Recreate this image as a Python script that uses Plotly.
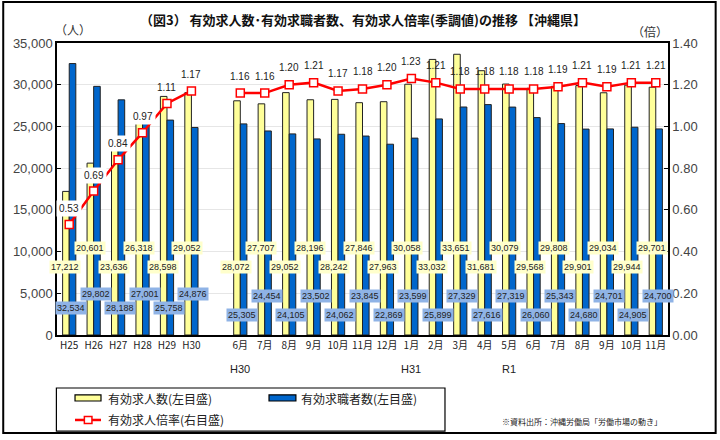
import plotly.graph_objects as go

# slots on the x axis: yearly, one empty slot, then monthly
year_keys = ["H25", "H26", "H27", "H28", "H29", "H30"]
month_keys = ["H30-06", "H30-07", "H30-08", "H30-09", "H30-10", "H30-11", "H30-12",
              "H31-01", "H31-02", "H31-03", "H31-04",
              "R1-05", "R1-06", "R1-07", "R1-08", "R1-09", "R1-10", "R1-11"]
month_labels = ["6月", "7月", "8月", "9月", "10月", "11月", "12月",
                "1月", "2月", "3月", "4月",
                "5月", "6月", "7月", "8月", "9月", "10月", "11月"]
era_marks = {"H30-06": "H30", "H31-01": "H31", "R1-05": "R1"}

year_offers = [17212, 20601, 23636, 26318, 28598, 29052]
year_seekers = [32534, 29802, 28188, 27001, 25758, 24876]
year_ratio = [0.53, 0.69, 0.84, 0.97, 1.11, 1.17]

month_offers = [28072, 27707, 29052, 28196, 28242, 27846, 27963,
                30058, 33032, 33651, 31681,
                30079, 29568, 29808, 29901, 29034, 29944, 29701]
month_seekers = [25305, 24454, 24105, 23502, 24062, 23845, 22869,
                 23599, 25899, 27329, 27616,
                 27319, 26060, 25343, 24680, 24701, 24905, 24700]
month_ratio = [1.16, 1.16, 1.20, 1.21, 1.17, 1.18, 1.20,
               1.23, 1.21, 1.18, 1.18,
               1.18, 1.18, 1.19, 1.21, 1.19, 1.21, 1.21]

names = ["有効求人数(左目盛)", "有効求職者数(左目盛)", "有効求人倍率(右目盛)"]

GAP = "gap"
cats = year_keys + [GAP] + month_keys
ticktext = year_keys + [""] + month_labels
offers = year_offers + [None] + month_offers
seekers = year_seekers + [None] + month_seekers
ratio = year_ratio + [None] + month_ratio

YELLOW = "#FFFF99"
BLUE = "#0066CC"
RED = "#FF0000"
JP = "Noto Sans CJK JP"
NUM = "Liberation Sans"

fig = go.Figure()
fig.add_trace(go.Bar(x=cats, y=offers, name=names[0],
                     marker=dict(color=YELLOW, line=dict(color="#222222", width=1))))
fig.add_trace(go.Bar(x=cats, y=seekers, name=names[1],
                     marker=dict(color=BLUE, line=dict(color="#222222", width=1))))
fig.add_trace(go.Scatter(x=cats, y=ratio, name=names[2], yaxis="y2",
                         mode="lines+markers", connectgaps=False,
                         line=dict(color=RED, width=2.5),
                         marker=dict(symbol="square", size=8, color="white",
                                     line=dict(color=RED, width=1.5))))

ann = []
# value boxes on the bars (staggered heights like the original)
def bar_labels(keys, offs, seeks, blue_lo, blue_hi):
    for j, k in enumerate(keys):
        lo = j % 2 == 0
        ann.append(dict(x=k, y=8150 if lo else 10400, xref="x", yref="y",
                        text=f"{offs[j]:,}", showarrow=False, xshift=-4,
                        bgcolor="#FFFFCC", borderpad=1,
                        font=dict(family=NUM, size=9, color="#222222")))
        ann.append(dict(x=k, y=blue_lo if lo else blue_hi, xref="x", yref="y",
                        text=f"{seeks[j]:,}", showarrow=False, xshift=2,
                        bgcolor="#8FB3E6", borderpad=1,
                        font=dict(family=NUM, size=9, color="#222222")))

bar_labels(year_keys, year_offers, year_seekers, 3240, 4900)
bar_labels(month_keys, month_offers, month_seekers, 2400, 4670)

# ratio labels
for j, k in enumerate(year_keys):
    ann.append(dict(x=k, y=year_ratio[j], xref="x", yref="y2", yshift=16,
                    text=f"{year_ratio[j]:.2f}", showarrow=False,
                    bgcolor="white" if j < 4 else "rgba(0,0,0,0)", borderpad=2,
                    font=dict(family=NUM, size=10, color="#222222")))
for j, k in enumerate(month_keys):
    ann.append(dict(x=k, y=month_ratio[j], xref="x", yref="y2", yshift=17,
                    text=f"{month_ratio[j]:.2f}", showarrow=False,
                    font=dict(family=NUM, size=10, color="#222222")))

# second row of x labels (era)
for k, t in era_marks.items():
    ann.append(dict(x=k, y=-0.116, xref="x", yref="paper", text=t, showarrow=False,
                    xanchor="center", yanchor="middle",
                    font=dict(family=NUM, size=11, color="#222222")))

def paper_text(x, y, text, size, color="#222222", family=JP, xanchor="center"):
    ann.append(dict(x=x, y=y, xref="paper", yref="paper", text=text, showarrow=False,
                    xanchor=xanchor, yanchor="middle",
                    font=dict(family=family, size=size, color=color)))

paper_text(0.5, 1.079, "<b>（図3） 有効求人数･有効求職者数、有効求人倍率(季調値)の推移 【沖縄県】</b>",
           13, "#111111")
paper_text(0.026, 1.045, "（人）", 12, "#333333")
paper_text(0.970, 1.040, "（倍）", 12, "#333333")
paper_text(0.859, -0.295, "※資料出所：沖縄労働局「労働市場の動き」", 8)

# hand-drawn legend box (two columns like the original)
paper_text(0.080, -0.216, names[0], 12, xanchor="left")
paper_text(0.396, -0.216, names[1], 12, xanchor="left")
paper_text(0.080, -0.291, names[2], 12, xanchor="left")

shapes = [
    # outer frame
    dict(type="rect", xref="paper", yref="paper", x0=-0.088, x1=1.078, y0=-0.336, y1=1.14,
         line=dict(color="black", width=2)),
    # legend frame
    dict(type="rect", xref="paper", yref="paper", x0=-0.001, x1=0.635, y0=-0.329, y1=-0.1815,
         line=dict(color="black", width=1.2), fillcolor="white"),
    dict(type="rect", xref="paper", yref="paper", x0=0.0295, x1=0.072, y0=-0.226, y1=-0.205,
         line=dict(color="black", width=1.2), fillcolor=YELLOW),
    dict(type="rect", xref="paper", yref="paper", x0=0.347, x1=0.391, y0=-0.226, y1=-0.205,
         line=dict(color="black", width=1.2), fillcolor=BLUE),
    dict(type="line", xref="paper", yref="paper", x0=0.0295, x1=0.072, y0=-0.291, y1=-0.291,
         line=dict(color=RED, width=2.5)),
    dict(type="rect", xref="paper", yref="paper", x0=0.0448, x1=0.0572, y0=-0.303, y1=-0.279,
         line=dict(color=RED, width=1.5), fillcolor="white"),
]

fig.update_layout(
    width=720, height=440,
    margin=dict(l=57, r=52, t=43, b=105, autoexpand=False),
    paper_bgcolor="white", plot_bgcolor="white",
    barmode="group", bargap=0.46, bargroupgap=0,
    showlegend=False,
    xaxis=dict(type="category", categoryorder="array", categoryarray=cats,
               range=[-0.5, len(cats) - 0.5],
               tickvals=cats, ticktext=ticktext, ticks="", showline=True,
               tickangle=0, automargin=False,
               linecolor="black", linewidth=1.5, mirror=True,
               tickfont=dict(family=JP, size=10, color="#222222")),
    yaxis=dict(range=[0, 35000], dtick=5000, tickformat=",", showgrid=True,
               gridcolor="#E6E6E6", showline=True, linecolor="black", linewidth=1.5,
               ticks="inside", ticklen=4, tickcolor="black", automargin=False,
               tickfont=dict(family=NUM, size=13, color="#444444")),
    yaxis2=dict(range=[0, 1.4], dtick=0.2, tickformat=".2f", overlaying="y",
                side="right", showgrid=False, showline=True, linecolor="black",
                linewidth=1.5, ticks="inside", ticklen=4, tickcolor="black",
                automargin=False,
                tickfont=dict(family=NUM, size=13, color="#444444")),
    annotations=ann,
    shapes=shapes,
)

# drop the page's default body margin so the figure sits at the window's corner
fig.write_html("out.html", config={"displayModeBar": False},
               post_script="document.body.style.margin='0';")
